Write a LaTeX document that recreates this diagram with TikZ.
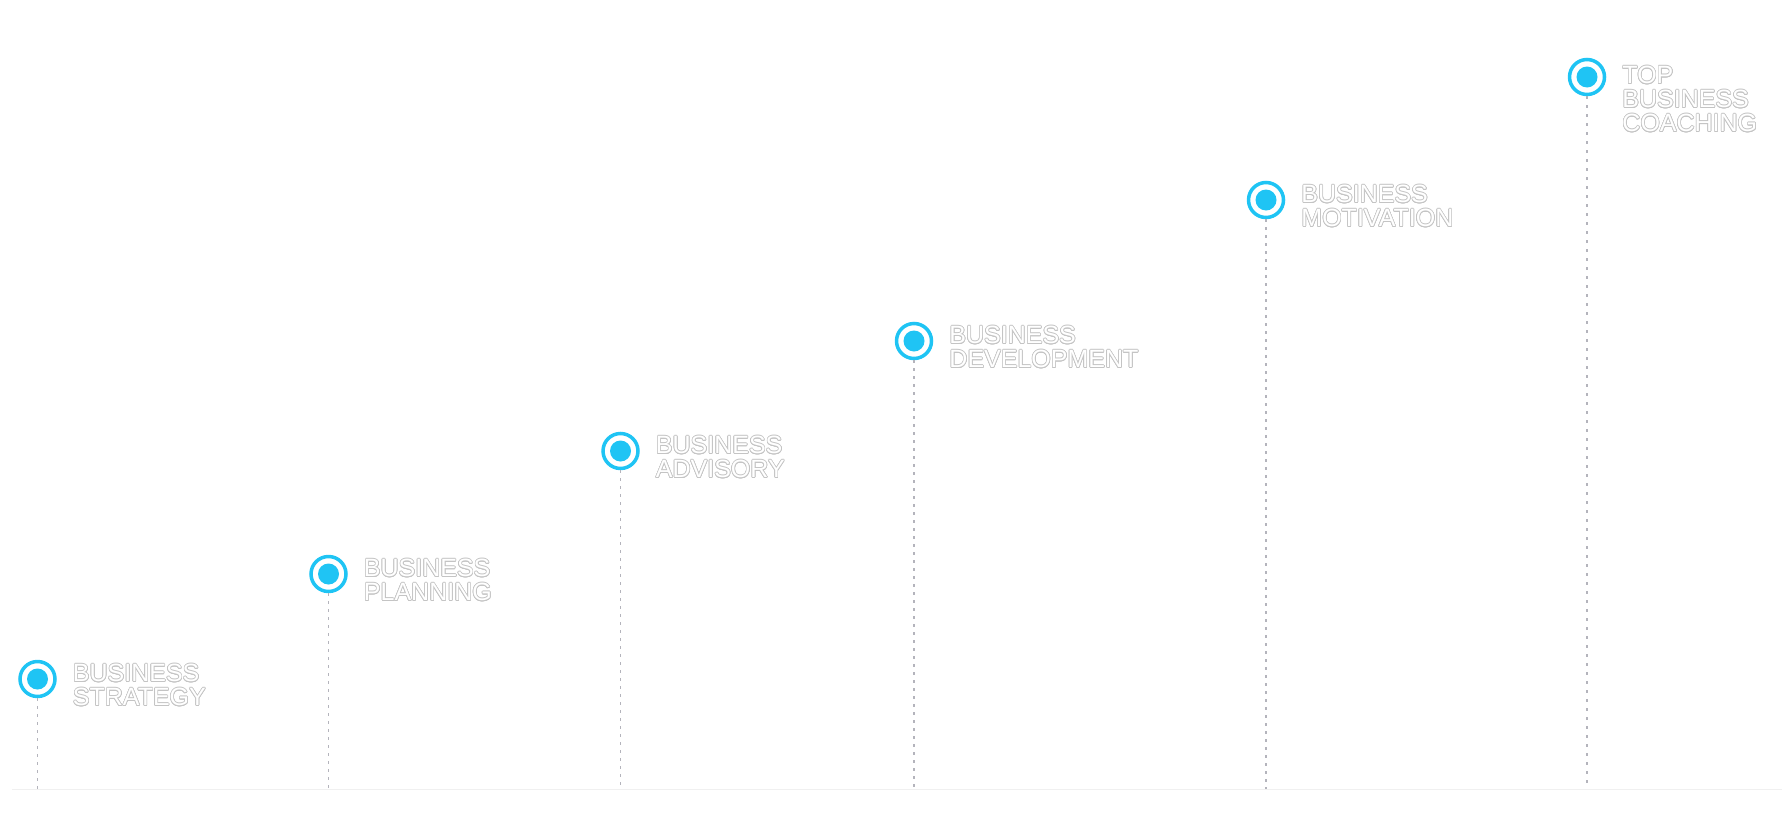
\documentclass[tikz,border=0pt]{standalone}
\usepackage{fontspec}
\usepackage{xcolor}
\usepackage{contour}
\usepackage{tikz}
\usetikzlibrary{positioning}
\newfontfamily\labelfont{Liberation Sans}
\definecolor{DOT_BLUE}{HTML}{1FC4F4}
\definecolor{TXT_EDGE}{HTML}{C4C4C4}
\definecolor{DROP_GRAY}{HTML}{B4B4BC}
\contourlength{0.7pt}
\newcommand{\outl}[1]{\contour{TXT_EDGE}{\textcolor{white}{#1}}}
\tikzstyle{RING}       = [circle, draw=DOT_BLUE, line width=3.5pt, fill=white, minimum size=35pt, inner sep=0pt]
\tikzstyle{LABEL}      = [inner sep=0pt, align=left, font=\labelfont\fontsize{25}{24}\selectfont]
\tikzstyle{DROP_LINE}  = [draw=DROP_GRAY, line width=1.2pt, dash pattern=on 3pt off 5pt]
\tikzstyle{DROP_LAST}  = [draw=DROP_GRAY, line width=2pt, dash pattern=on 3pt off 6pt]
\tikzstyle{BASE_LINE}  = [draw=black!6, line width=1pt]

\begin{document}
\begin{tikzpicture}[x=1pt, y=-1pt]
  \useasboundingbox (0,0) rectangle (1782,822);

  % milestones
  \node[RING] (MS_1) at (37.5,679) {};
  \node[RING] (MS_2) at (328.5,574) {};
  \node[RING] (MS_3) at (620.5,451) {};
  \node[RING] (MS_4) at (914,341) {};
  \node[RING] (MS_5) at (1266,200) {};
  \node[RING] (MS_6) at (1587,77) {};
  \fill[DOT_BLUE] (MS_1) circle (10.5pt);
  \fill[DOT_BLUE] (MS_2) circle (10.5pt);
  \fill[DOT_BLUE] (MS_3) circle (10.5pt);
  \fill[DOT_BLUE] (MS_4) circle (10.5pt);
  \fill[DOT_BLUE] (MS_5) circle (10.5pt);
  \fill[DOT_BLUE] (MS_6) circle (10.5pt);

  % labels
  \node[LABEL, right=16pt of MS_1.east, anchor=north west, yshift=15pt] (LB_1) {\outl{BUSINESS}\\\outl{STRATEGY}};
  \node[LABEL, right=16pt of MS_2.east, anchor=north west, yshift=15pt] (LB_2) {\outl{BUSINESS}\\\outl{PLANNING}};
  \node[LABEL, right=16pt of MS_3.east, anchor=north west, yshift=15pt] (LB_3) {\outl{BUSINESS}\\\outl{ADVISORY}};
  \node[LABEL, right=16pt of MS_4.east, anchor=north west, yshift=15pt] (LB_4) {\outl{BUSINESS}\\\outl{DEVELOPMENT}};
  \node[LABEL, right=16pt of MS_5.east, anchor=north west, yshift=15pt] (LB_5) {\outl{BUSINESS}\\\outl{MOTIVATION}};
  \node[LABEL, right=16pt of MS_6.east, anchor=north west, yshift=11pt] (LB_6) {\outl{TOP}\\\outl{BUSINESS}\\\outl{COACHING}};

  % ground
  \coordinate (BS_0) at (12,789);
  \coordinate (BS_E) at (1782,789);
  \coordinate (BS_1) at (37.5,789);
  \coordinate (BS_2) at (328.5,789);
  \coordinate (BS_3) at (620.5,789);
  \coordinate (BS_4) at (914,789);
  \coordinate (BS_5) at (1266,789);
  \coordinate (BS_6) at (1587,789);
  \draw[BASE_LINE] (BS_0) -- (BS_E);

  \draw[DROP_LINE] (MS_1) -- (BS_1);
  \draw[DROP_LINE] (MS_2) -- (BS_2);
  \draw[DROP_LINE] (MS_3) -- (BS_3);
  \draw[DROP_LINE] (MS_4) -- (BS_4);
  \draw[DROP_LINE] (MS_5) -- (BS_5);
  \draw[DROP_LAST] (MS_6) -- (BS_6);
\end{tikzpicture}
\end{document}
